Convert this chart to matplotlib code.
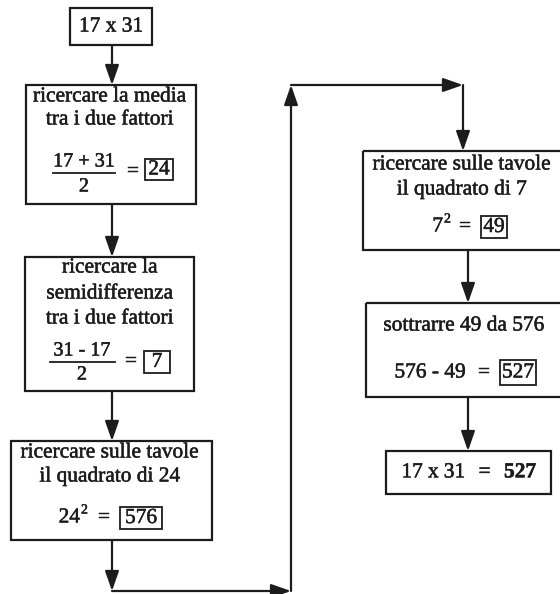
import matplotlib
matplotlib.use('Agg')
import matplotlib.pyplot as plt
import matplotlib.patheffects as pe
from matplotlib.patches import Rectangle, FancyArrowPatch

plt.rcParams['font.family'] = ['Liberation Serif', 'DejaVu Serif']
plt.rcParams['mathtext.fontset'] = 'custom'
plt.rcParams['mathtext.rm'] = 'Liberation Serif'
plt.rcParams['mathtext.it'] = 'Liberation Serif:italic'
plt.rcParams['mathtext.bf'] = 'Liberation Serif:bold'

# ---------------- content ----------------
start_label = "17 x 31"
step_lines = [
    ["ricercare la media", "tra i due fattori"],
    ["ricercare la", "semidifferenza", "tra i due fattori"],
    ["ricercare sulle tavole", "il quadrato di 24"],
    ["ricercare sulle tavole", "il quadrato di 7"],
    ["sottrarre 49 da 576"],
]
fraction_num = ["17 + 31", "31 - 17"]
fraction_den = ["2", "2"]
square_bases = ["24", "7"]
exponent = "2"
subtraction = "576 - 49"
results = ["24", "7", "576", "49", "527"]
final_lhs = "17 x 31"
final_value = "527"

# ---------------- layout (pixel coordinates) ----------------
W, H = 560, 594
INK = '#1c1c1c'
FS = 15.4
STROKE = [pe.withStroke(linewidth=0.35, foreground=INK)]

# boxes: (x0, y0, x1, y1)
start_box = (70, 8, 152, 45)
step_boxes = [
    (26, 85, 196, 204),
    (25, 257, 194, 391),
    (11, 441, 212, 540),
    (363, 151, 570, 250),
    (366, 303, 570, 397),
]
final_box = (386, 451, 551, 494)

# centre x and centres of the text lines in each step
line_cx = [110, 110, 110, 462, 464]
line_y = [[97, 120], [268, 294, 319], [453, 477], [165, 190], [326]]

# result boxes: (x0, y0, x1, y1)
res_boxes = [
    (145, 159, 173, 180),
    (144, 351, 170, 373),
    (120, 507, 162, 529),
    (481, 216, 507, 238),
    (500, 360, 536, 385),
]

fig = plt.figure(figsize=(W / 100, H / 100), dpi=100)
ax = fig.add_axes([0, 0, 1, 1])
ax.set_xlim(0, W)
ax.set_ylim(H, 0)
ax.axis('off')


def box(b, lw=1.6):
    x0, y0, x1, y1 = b
    ax.add_patch(Rectangle((x0, y0), x1 - x0, y1 - y0, fill=False,
                           edgecolor=INK, lw=lw, zorder=2))


def txt(x, y, s, ha='center', fs=FS):
    ax.text(x, y, s, ha=ha, va='center', fontsize=fs, color=INK,
            path_effects=STROKE)


def arrow(p, q):
    ax.add_patch(FancyArrowPatch(p, q, arrowstyle='-|>,head_length=0.8,head_width=0.28',
                                 mutation_scale=15, color=INK, lw=1.6,
                                 shrinkA=0, shrinkB=0, zorder=3))


# start box
box(start_box)
txt((start_box[0] + start_box[2]) / 2, 27, start_label)

# step boxes with their text lines
for b, lines, cx, ys in zip(step_boxes, step_lines, line_cx, line_y):
    box(b)
    for s, y in zip(lines, ys):
        txt(cx, y, s)

# result boxes with numbers
for rb, r in zip(res_boxes, results):
    box(rb, lw=1.3)
    txt((rb[0] + rb[2]) / 2, (rb[1] + rb[3]) / 2 + 0.5, r)

# fractions
frac_cx = [84, 82]
frac_y = [(162, 173, 187), (351, 362, 375)]
frac_bar = [(53, 115), (50, 115)]
eq_x = [133, 131]
eq_y = [172, 362]
for num, den, cx, (yn, yb, yd), (bx0, bx1), ex, ey in zip(
        fraction_num, fraction_den, frac_cx, frac_y, frac_bar, eq_x, eq_y):
    txt(cx, yn, num, fs=14.5)
    ax.plot([bx0, bx1], [yb, yb], color=INK, lw=1.3)
    txt(cx, yd, den, fs=14.5)
    txt(ex, ey, "=")

# squares (base + small raised exponent)
sq_base_x = [80, 443]
sq_y = [518, 227]
sq_eq_x = [104, 465]
for base, bx, y, ex in zip(square_bases, sq_base_x, sq_y, sq_eq_x):
    txt(bx, y, base, ha='right')
    txt(bx + 1, y - 8, exponent, ha='left', fs=10)
    txt(ex, y, "=")

# subtraction
txt(430, 373, subtraction)
txt(484, 373, "=")

# final box
box(final_box)
txt((final_box[0] + final_box[2]) / 2 + 1, 473,
    r'$\mathregular{%s\ \ =\ \ }\mathbf{%s}$' % (final_lhs.replace(' ', r'\ '), final_value))

# connectors
arrow((112, 45), (112, 85))
arrow((112, 204), (112, 257))
arrow((112, 391), (112, 441))
arrow((112, 540), (112, 591))
arrow((112, 591), (291, 591))
arrow((291, 591), (291, 85))
arrow((291, 85), (463, 85))
arrow((463, 85), (463, 151))
arrow((468, 250), (468, 303))
arrow((468, 397), (468, 451))

fig.savefig('out.png', dpi=100, facecolor='white')
